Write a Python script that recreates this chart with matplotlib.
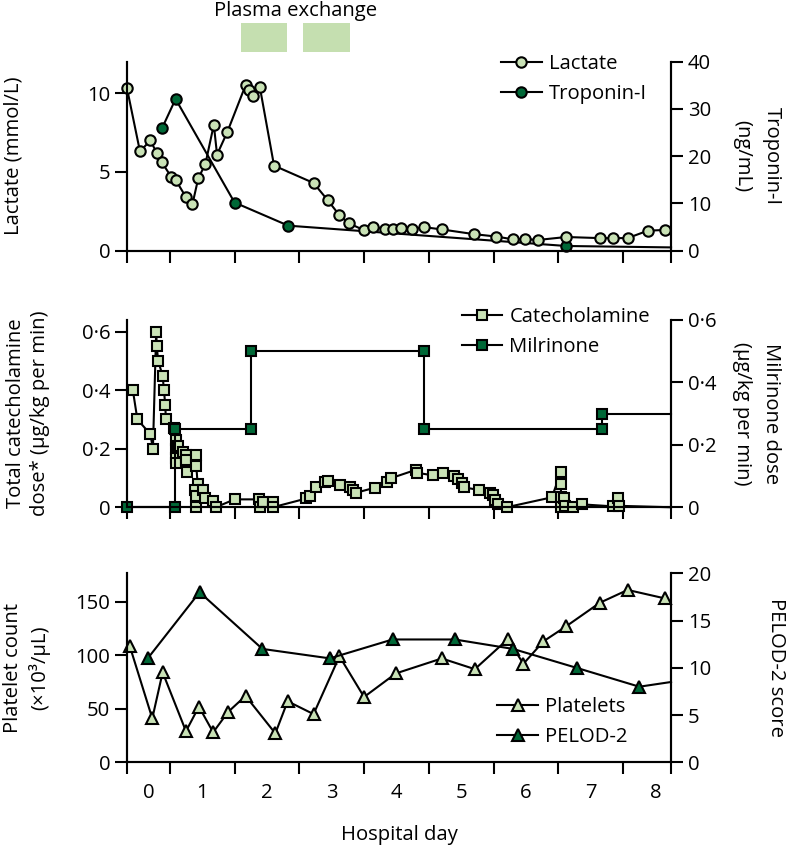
import matplotlib
matplotlib.use("Agg")
import matplotlib.pyplot as plt
import matplotlib.transforms as mtransforms
from matplotlib.patches import Rectangle
from matplotlib.ticker import FuncFormatter

# x positions are in hospital-day units; integer k is the boundary before day k
# Lactate (mmol/L)
lactate_x = [0.34, 0.54, 0.70, 0.80, 0.88, 1.02, 1.09, 1.25, 1.35, 1.44, 1.55, 1.68,
             1.73, 1.89, 2.17, 2.22, 2.29, 2.39, 2.61, 3.22, 3.44, 3.62, 3.76, 4.00,
             4.14, 4.32, 4.44, 4.57, 4.74, 4.92, 5.20, 5.70, 6.04, 6.30, 6.48, 6.68,
             7.12, 7.64, 7.85, 8.07, 8.38, 8.65]
lactate_y = [10.3, 6.3, 7.0, 6.2, 5.6, 4.7, 4.5, 3.4, 2.95, 4.6, 5.5, 8.0,
             6.1, 7.55, 10.5, 10.2, 9.8, 10.4, 5.4, 4.3, 3.2, 2.25, 1.75, 1.3,
             1.5, 1.4, 1.4, 1.45, 1.35, 1.5, 1.35, 1.05, 0.9, 0.72, 0.75, 0.68,
             0.87, 0.8, 0.8, 0.8, 1.27, 1.32]

# Troponin-I (ng/mL); last value is the line end at the axis edge
troponin_x = [0.88, 1.09, 2.00, 2.83, 7.12, 8.74]
troponin_y = [25.9, 32.1, 10.2, 5.3, 1.0, 0.7]

# Total catecholamine dose (ug/kg per min)
catechol_x = [0.43, 0.50, 0.70, 0.74, 0.79, 0.80, 0.82, 0.89, 0.91, 0.93, 0.94, 1.07,
              1.09, 1.10, 1.09, 1.10, 1.13, 1.20, 1.25, 1.25, 1.27, 1.41, 1.41, 1.43,
              1.39, 1.41, 1.40, 1.52, 1.54, 1.67, 1.71, 2.00, 2.38, 2.40, 2.44, 2.59,
              2.59, 3.11, 3.17, 3.26, 3.40, 3.44, 3.63, 3.79, 3.83, 3.88, 4.17, 4.35,
              4.41, 4.80, 4.81, 5.07, 5.22, 5.39, 5.45, 5.51, 5.54, 5.78, 5.95, 5.99,
              6.02, 6.07, 6.20, 6.90, 7.04, 7.04, 7.04, 7.04, 7.09, 7.10, 7.23, 7.36,
              7.85, 7.92, 7.93, 8.74]
catechol_y = [0.40, 0.30, 0.25, 0.20, 0.60, 0.55, 0.50, 0.45, 0.40, 0.35, 0.30, 0.27,
              0.23, 0.20, 0.17, 0.15, 0.21, 0.19, 0.18, 0.16, 0.12, 0.18, 0.14, 0.08,
              0.06, 0.04, 0.0, 0.06, 0.03, 0.02, 0.0, 0.027, 0.027, 0.0, 0.018, 0.018,
              0.0, 0.03, 0.04, 0.07, 0.085, 0.09, 0.076, 0.068, 0.06, 0.05, 0.067, 0.088,
              0.099, 0.128, 0.118, 0.109, 0.118, 0.107, 0.096, 0.082, 0.068, 0.059, 0.05, 0.042,
              0.025, 0.011, 0.0, 0.034, 0.122, 0.08, 0.036, 0.0, 0.031, 0.005, 0.002, 0.01,
              0.003, 0.031, 0.005, 0.0]

# Milrinone dose (ug/kg per min)
milrinone_x = [0.34, 1.08, 1.08, 2.25, 2.25, 4.93, 4.93, 7.67, 7.67, 8.74]
milrinone_y = [0.0, 0.0, 0.25, 0.25, 0.50, 0.50, 0.25, 0.25, 0.30, 0.30]

# Platelet count (x10^3/uL)
platelet_x = [0.38, 0.73, 0.89, 1.25, 1.45, 1.67, 1.90, 2.17, 2.63, 2.82, 3.22, 3.62,
              4.00, 4.49, 5.20, 5.71, 6.22, 6.46, 6.77, 7.12, 7.64, 8.07, 8.65]
platelet_y = [109, 41, 84, 29, 52, 28, 47, 62, 27, 57, 45, 99,
              61, 83, 97, 87, 115, 92, 113, 127, 149, 161, 153]

# PELOD-2 score; last value is the line end at the axis edge
pelod_x = [0.66, 1.46, 2.43, 3.47, 4.44, 5.40, 6.30, 7.28, 8.25, 8.74]
pelod_y = [11, 18, 12, 11, 13, 13, 12, 10, 8, 8.5]

plasma_days = [(2.10, 2.81), (3.06, 3.79)]

day_labels = ['0', '1', '2', '3', '4', '5', '6', '7', '8']
day_label_pos = [0.67, 1.5, 2.5, 3.5, 4.5, 5.5, 6.5, 7.5, 8.5]

XMIN, XMAX = 0.34, 8.74
LIGHT = '#c9e2b6'
DARK = '#006837'
BOX = '#c5dfb0'
FS = 14.6

plt.rcParams['font.family'] = ['Open Sans', 'DejaVu Sans']
plt.rcParams['font.size'] = FS
plt.rcParams['axes.linewidth'] = 1.5

fig = plt.figure(figsize=(7.88, 8.47), dpi=100)
L, W = 0.1612, 0.6904
ax1 = fig.add_axes([L, 0.7040, W, 0.2232])
ax2 = fig.add_axes([L, 0.4011, W, 0.2211])
ax3 = fig.add_axes([L, 0.1000, W, 0.2231])


def style(ax, twin):
    ax.set_xlim(XMIN, XMAX)
    ax.spines['top'].set_visible(False)
    twin.spines['top'].set_visible(False)
    for a in (ax, twin):
        a.tick_params(direction='out', length=8.5, width=1.5, pad=3.5, labelsize=FS)
    ax.set_xticks([XMIN] + list(range(1, 9)) + [XMAX])
    ax.set_xticklabels([])


def add_legend(ax, handles, labels, anchor):
    ax.legend(handles, labels, loc='upper left', bbox_to_anchor=anchor,
              bbox_transform=fig.transFigure, frameon=False, borderpad=0,
              borderaxespad=0, handlelength=2.0, handletextpad=0.35,
              labelspacing=0.5, numpoints=1, fontsize=FS)


line_kw = dict(color='black', lw=1.5, mec='black', mew=1.5, clip_on=False)

# --- top panel: lactate / troponin
ax1t = ax1.twinx()
style(ax1, ax1t)
ax1.set_ylim(0, 12)
ax1.set_yticks([0, 5, 10])
ax1t.set_ylim(0, 40)
ax1t.set_yticks([0, 10, 20, 30, 40])
l_lac, = ax1.plot(lactate_x, lactate_y, marker='o', ms=7.5, mfc=LIGHT, **line_kw)
l_tro, = ax1t.plot(troponin_x, troponin_y, marker='o', ms=7.5, mfc=DARK,
                   markevery=list(range(len(troponin_x) - 1)), **line_kw)
ax1.set_zorder(ax1t.get_zorder() + 1)
ax1.patch.set_visible(False)
ax1.set_ylabel('Lactate (mmol/L)', fontsize=FS)
ax1.yaxis.set_label_coords(-0.19, 0.5)
ax1t.set_ylabel('Troponin-I\n(ng/mL)', fontsize=FS, rotation=270, va='bottom', linespacing=1.65)
ax1t.yaxis.set_label_coords(1.112, 0.5)

trans = mtransforms.blended_transform_factory(ax1.transData, ax1.transAxes)
for start, end in plasma_days:
    ax1.add_patch(Rectangle((start, 1.05), end - start, 0.153, transform=trans,
                            facecolor=BOX, edgecolor='none', clip_on=False))
ax1.text(sum(plasma_days[0] + plasma_days[1]) / 4, 1.268, 'Plasma exchange', transform=trans,
         ha='center', va='center', fontsize=FS)
add_legend(ax1, [l_lac, l_tro], ['Lactate', 'Troponin-I'], (0.636, 0.936))

# --- middle panel: catecholamine / milrinone
ax2t = ax2.twinx()
style(ax2, ax2t)
dot_fmt = FuncFormatter(lambda v, p: '0' if abs(v) < 1e-9 else f'{v:.1f}'.replace('.', '\u00b7'))
ax2.set_ylim(0, 0.64)
ax2.set_yticks([0, 0.2, 0.4, 0.6])
ax2.yaxis.set_major_formatter(dot_fmt)
ax2t.set_ylim(0, 0.6)
ax2t.set_yticks([0, 0.2, 0.4, 0.6])
ax2t.yaxis.set_major_formatter(dot_fmt)
l_cat, = ax2.plot(catechol_x, catechol_y, marker='s', ms=7, mfc=LIGHT,
                  markevery=list(range(len(catechol_x) - 1)), **line_kw)
l_mil, = ax2t.plot(milrinone_x, milrinone_y, marker='s', ms=7, mfc=DARK,
                   markevery=list(range(len(milrinone_x) - 1)), **line_kw)
ax2.set_ylabel('Total catecholamine\ndose* (\u00b5g/kg per min)', fontsize=FS, linespacing=1.3)
ax2.yaxis.set_label_coords(-0.1415, 0.5)
ax2t.set_ylabel('Milrinone dose\n(\u00b5g/kg per min)', fontsize=FS, rotation=270, va='bottom', linespacing=1.6)
ax2t.yaxis.set_label_coords(1.112, 0.5)
add_legend(ax2t, [l_cat, l_mil], ['Catecholamine', 'Milrinone'], (0.586, 0.638))

# --- bottom panel: platelets / PELOD-2
ax3t = ax3.twinx()
style(ax3, ax3t)
ax3.set_ylim(0, 176.5)
ax3.set_yticks([0, 50, 100, 150])
ax3t.set_ylim(0, 20)
ax3t.set_yticks([0, 5, 10, 15, 20])
l_plt, = ax3.plot(platelet_x, platelet_y, marker='^', ms=8.5, mfc=LIGHT, **line_kw)
l_pel, = ax3t.plot(pelod_x, pelod_y, marker='^', ms=8.5, mfc=DARK,
                   markevery=list(range(len(pelod_x) - 1)), **line_kw)
ax3.set_ylabel('Platelet count\n(\u00d710\u00b3/\u00b5L)', fontsize=FS, linespacing=1.3)
ax3.yaxis.set_label_coords(-0.1415, 0.5)
ax3t.set_ylabel('PELOD-2 score', fontsize=FS, rotation=270, va='bottom')
ax3t.yaxis.set_label_coords(1.175, 0.5)
ax3.set_xticks(day_label_pos, minor=True)
ax3.set_xticklabels(day_labels, minor=True)
ax3.tick_params(axis='x', which='minor', length=0, pad=15, labelsize=FS)
ax3.set_xlabel('Hospital day', fontsize=FS, labelpad=16)
add_legend(ax3t, [l_plt, l_pel], ['Platelets', 'PELOD-2'], (0.631, 0.1775))

fig.savefig('out.png', dpi=100)
